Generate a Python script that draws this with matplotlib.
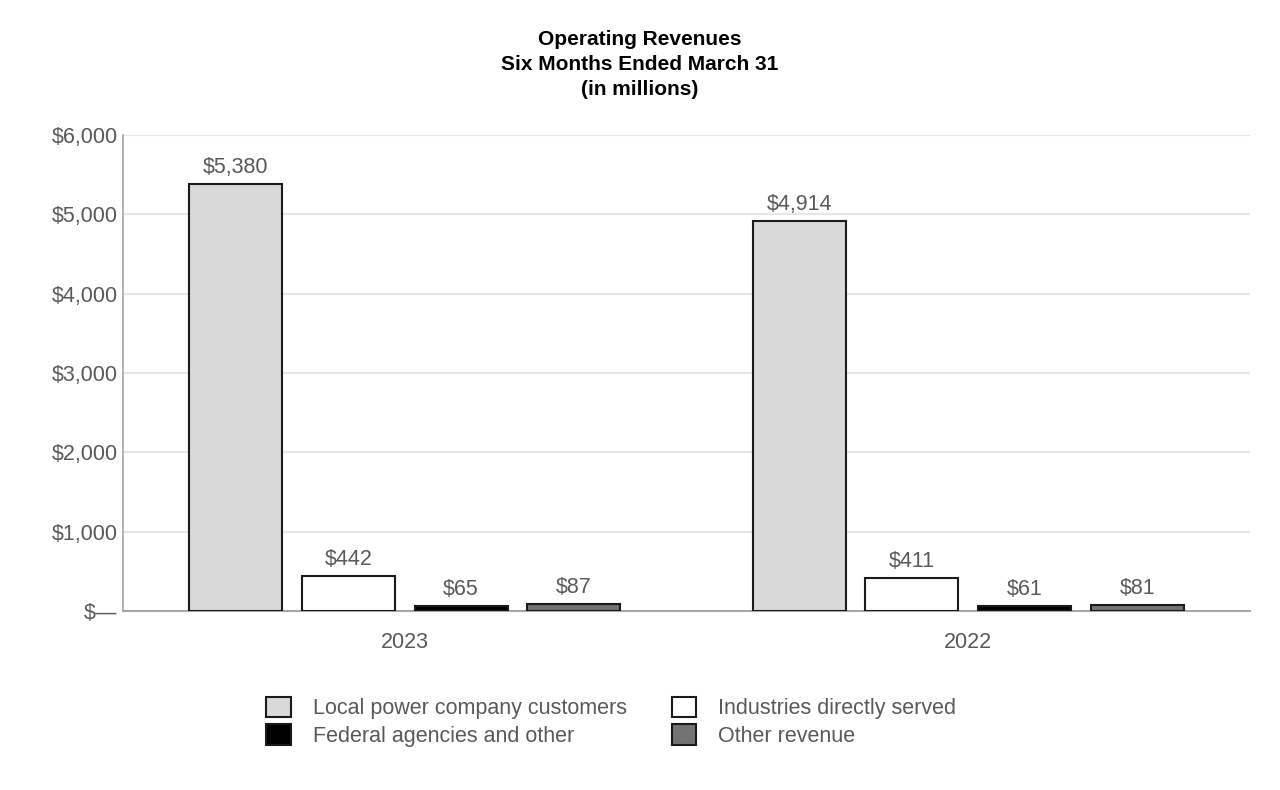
import matplotlib
matplotlib.use("Agg")
import matplotlib.pyplot as plt
import numpy as np

plt.rcParams["font.family"] = ["Liberation Sans", "DejaVu Sans"]

years = ["2023", "2022"]
series_names = [
    "Local power company customers",
    "Industries directly served",
    "Federal agencies and other",
    "Other revenue",
]
local_power = [5380, 4914]
industries = [442, 411]
federal = [65, 61]
other = [87, 81]
series_values = [local_power, industries, federal, other]
colors = ["#d9d9d9", "#ffffff", "#000000", "#737373"]

y_ticks = [0, 1000, 2000, 3000, 4000, 5000, 6000]
y_tick_labels = ["$\u2014", "$1,000", "$2,000", "$3,000", "$4,000", "$5,000", "$6,000"]

text_color = "#595959"
fs = 15.5

fig = plt.figure(figsize=(12.8, 7.9), dpi=100)
ax = fig.add_axes([0.0961, 0.2266, 0.8805, 0.6025])

x = np.arange(len(years))
width = 0.165
step = 0.2
offsets = (np.arange(len(series_names)) - 1.5) * step

handles = []
for i, (name, vals) in enumerate(zip(series_names, series_values)):
    bars = ax.bar(x + offsets[i], vals, width, color=colors[i], edgecolor="#1a1a1a",
                  linewidth=1.5, label=name, zorder=3)
    handles.append(bars)
    for rect, v in zip(bars, vals):
        ax.text(rect.get_x() + rect.get_width() / 2, v + 75, f"${v:,}",
                ha="center", va="bottom", fontsize=fs, color=text_color)

ax.set_xlim(-0.5, 1.5)
ax.set_ylim(0, 6000)
ax.set_yticks(y_ticks)
ax.set_yticklabels(y_tick_labels)
ax.set_xticks(x)
ax.set_xticklabels(years)
ax.tick_params(axis="both", length=0, labelsize=fs, labelcolor=text_color)
ax.tick_params(axis="y", pad=4)
ax.tick_params(axis="x", pad=15)
ax.grid(axis="y", color="#e6e6e6", linewidth=1.5, zorder=0)
ax.set_axisbelow(True)
for s in ["top", "right"]:
    ax.spines[s].set_visible(False)
ax.spines["left"].set_color("#a6a6a6")
ax.spines["bottom"].set_color("#a6a6a6")
ax.spines["left"].set_linewidth(1.2)
ax.spines["bottom"].set_linewidth(1.5)

fig.text(0.5, 0.918, "Operating Revenues\nSix Months Ended March 31\n(in millions)",
         ha="center", va="center", fontsize=15, fontweight="bold", color="black",
         linespacing=1.4)

# legend fills column-wise, so reorder to read row-wise like the original
order = [0, 2, 1, 3]
fig.legend([handles[k] for k in order], [series_names[k] for k in order],
           loc="upper left", bbox_to_anchor=(0.208, 0.118), ncol=2, frameon=False,
           fontsize=fs, labelcolor=text_color, columnspacing=2.1, handlelength=1.15,
           handleheight=1.1, handletextpad=1.0, labelspacing=0.22, borderpad=0,
           borderaxespad=0)

fig.savefig("out.png", dpi=100)
